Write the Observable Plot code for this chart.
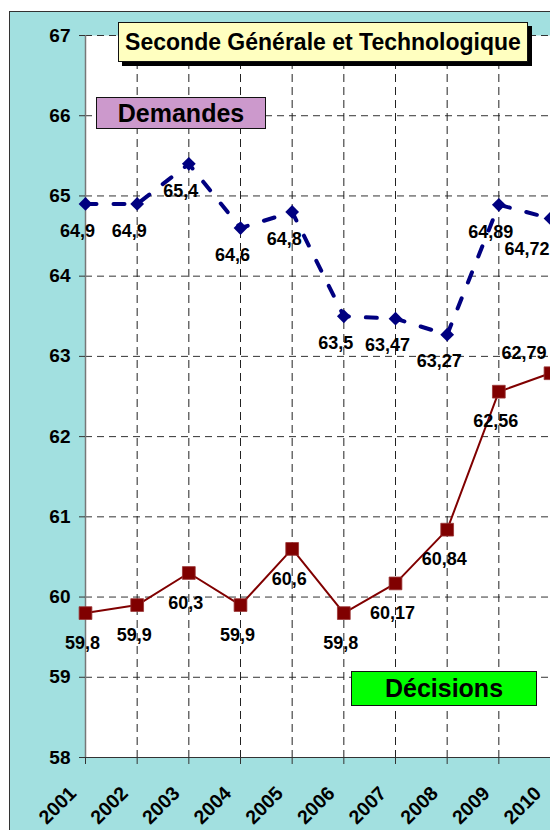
<!DOCTYPE html>
<html>
<head>
<meta charset="utf-8">
<script src="https://cdn.jsdelivr.net/npm/d3@7"></script>
<script src="https://cdn.jsdelivr.net/npm/@observablehq/plot@0.6"></script>
<style>
  html, body { margin: 0; padding: 0; background: #fff; }
  body { width: 550px; height: 830px; overflow: hidden; position: relative;
         font-family: "Liberation Sans", Arial, sans-serif; }
  #frame { position: absolute; left: 9px; top: 11px; width: 600px; height: 900px;
           background: #A2E0E0; border: 1.5px solid #333; }
  #chart { position: absolute; left: 0; top: 0; }
  .box { position: absolute; display: flex; align-items: center; justify-content: center;
         font-weight: bold; color: #000; box-sizing: border-box; border: 1.5px solid #111; }
  #title { left: 118px; top: 22px; width: 410px; height: 40px; background: #FFFFC0;
           font-size: 23px; box-shadow: 4px 4px 0 #000; border-width: 1px; padding-top: 1px; }
  #dem { left: 96px; top: 97px; width: 170px; height: 32px; background: #CC99CC; font-size: 25px; }
  #dec { left: 351px; top: 671px; width: 186px; height: 35px; background: #00FF00; font-size: 25px; }
</style>
</head>
<body>
<div id="frame"></div>
<div id="chart"></div>
<div class="box" id="title">Seconde Générale et Technologique</div>
<div class="box" id="dem">Demandes</div>
<div class="box" id="dec">Décisions</div>
<script>
const years = [2001, 2002, 2003, 2004, 2005, 2006, 2007, 2008, 2009, 2010];
const demandes = [64.9, 64.9, 65.4, 64.6, 64.8, 63.5, 63.47, 63.27, 64.89, 64.72];
const decisions = [59.8, 59.9, 60.3, 59.9, 60.6, 59.8, 60.17, 60.84, 62.56, 62.79];
const yTicks = [58, 59, 60, 61, 62, 63, 64, 65, 66, 67];

const demData = years.map((y, i) => ({year: y, value: demandes[i]}));
const decData = years.map((y, i) => ({year: y, value: decisions[i]}));
const lastYear = years[years.length - 1];
const fmt = v => String(v).replace(".", ",");
const FONT = '"Liberation Sans", Arial, sans-serif';

const chart = Plot.plot({
  width: 550,
  height: 830,
  marginLeft: 85,
  marginRight: 0,
  marginTop: 35,
  marginBottom: 73,
  style: {
    fontFamily: FONT,
    fontSize: "18px",
    fontWeight: "bold",
    color: "#000",
    background: "transparent"
  },
  x: {type: "linear", domain: [2001, 2010]},
  y: {domain: [58, 67]},
  marks: [
    Plot.frame({fill: "white", stroke: null}),
    Plot.ruleY(yTicks.slice(1), {stroke: "#333", strokeWidth: 1, strokeDasharray: "7,5"}),
    Plot.ruleX(years.slice(1), {stroke: "#222", strokeWidth: 1, strokeDasharray: "8,5"}),
    Plot.ruleX([2001], {stroke: "#777", strokeWidth: 1.5}),
    Plot.ruleY([58], {stroke: "#333", strokeWidth: 1.2}),
    Plot.axisY({ticks: yTicks, tickSize: 6, tickPadding: 9, label: null, stroke: "#333",
                tickFormat: d => String(d), fill: "#000", fontFamily: FONT, fontSize: 19}),
    Plot.axisX({ticks: years, tickSize: 7, label: null, stroke: "#333", tickFormat: () => ""}),
    Plot.text(years, {x: d => d, frameAnchor: "bottom", text: d => String(d), rotate: -45,
                      textAnchor: "end", lineAnchor: "bottom", dx: -8, dy: 37, fill: "#000",
                      fontFamily: FONT, fontSize: 19.5}),
    // Décisions
    Plot.line(decData, {x: "year", y: "value", stroke: "#800000", strokeWidth: 2}),
    Plot.dot(decData, {x: "year", y: "value", symbol: "square", r: 7.2, fill: "#800000", stroke: "#993333", strokeWidth: 0.8}),
    // Demandes
    Plot.line(demData, {x: "year", y: "value", stroke: "#000080", strokeWidth: 4, strokeDasharray: "11,17"}),
    Plot.dot(demData, {x: "year", y: "value", symbol: "diamond2", r: 6.2, fill: "#000080", stroke: null}),
    // value labels
    Plot.text(demData.filter(d => d.year !== lastYear), {x: "year", y: "value", text: d => fmt(d.value),
              dx: -8, dy: 27, fill: "#000", fontFamily: FONT, fontSize: 18}),
    Plot.text(demData.filter(d => d.year === lastYear), {x: "year", y: "value", text: d => fmt(d.value),
              textAnchor: "end", dx: -1, dy: 31, fill: "#000", fontFamily: FONT, fontSize: 18}),
    Plot.text(decData.filter(d => d.year !== lastYear), {x: "year", y: "value", text: d => fmt(d.value),
              dx: -3, dy: 30, fill: "#000", fontFamily: FONT, fontSize: 18}),
    Plot.text(decData.filter(d => d.year === lastYear), {x: "year", y: "value", text: d => fmt(d.value),
              textAnchor: "end", dx: -4, dy: -20, fill: "#000", fontFamily: FONT, fontSize: 18})
  ]
});
document.getElementById("chart").appendChild(chart);
</script>
</body>
</html>
